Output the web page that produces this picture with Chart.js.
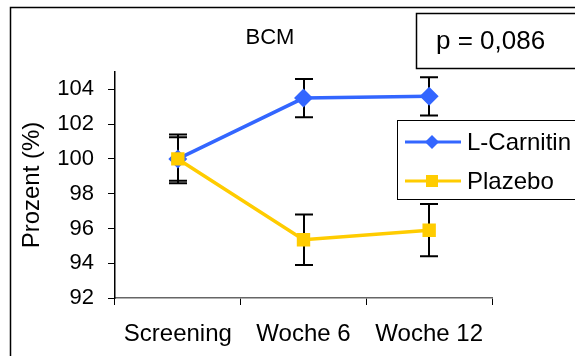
<!DOCTYPE html>
<html>
<head>
<meta charset="utf-8">
<script src="https://cdn.jsdelivr.net/npm/chart.js@4"></script>
<style>
  body { margin: 0; background: #fff; }
  #wrap { width: 575px; height: 356px; }
</style>
</head>
<body>
<div id="wrap"><canvas id="bcm-chart" width="575" height="356"></canvas></div>
<script>
// Data
const categories = ['Screening', 'Woche 6', 'Woche 12'];
const carnitinValues = [100, 103.5, 103.6];
const carnitinErrors = [1.25, 1.1, 1.1];
const plazeboValues = [100, 95.35, 95.9];
const plazeboErrors = [1.4, 1.45, 1.5];
const yTicks = [92, 94, 96, 98, 100, 102, 104];
const chartTitle = 'BCM';
const yAxisTitle = 'Prozent (%)';
const pValueText = 'p = 0,086';

const FONT = '"Liberation Sans", Arial, sans-serif';
const BLUE = '#3366FF';
const YELLOW = '#FFCC00';

// Error bars, frame, title, p-value box and legend
const decorPlugin = {
  id: 'decor',
  beforeDatasetsDraw(chart) {
    const ctx = chart.ctx;
    const x = chart.scales.x;
    const y = chart.scales.y;
    ctx.save();
    ctx.strokeStyle = '#000';
    ctx.lineWidth = 2;
    const sets = [[carnitinValues, carnitinErrors], [plazeboValues, plazeboErrors]];
    sets.forEach(([vals, errs]) => {
      vals.forEach((v, i) => {
        const px = Math.round(x.getPixelForValue(i));
        const top = y.getPixelForValue(v + errs[i]);
        const bot = y.getPixelForValue(v - errs[i]);
        ctx.beginPath();
        ctx.moveTo(px, top); ctx.lineTo(px, bot);
        ctx.moveTo(px - 9, top); ctx.lineTo(px + 9, top);
        ctx.moveTo(px - 9, bot); ctx.lineTo(px + 9, bot);
        ctx.stroke();
      });
    });
    ctx.restore();
  },
  afterDraw(chart) {
    const ctx = chart.ctx;
    ctx.save();
    // outer frame
    ctx.strokeStyle = '#000';
    ctx.lineWidth = 1.5;
    ctx.beginPath();
    ctx.moveTo(10.5, 356); ctx.lineTo(10.5, 7.5); ctx.lineTo(575, 7.5);
    ctx.stroke();

    // title
    ctx.fillStyle = '#000';
    ctx.font = '22px ' + FONT;
    ctx.textAlign = 'center';
    ctx.textBaseline = 'middle';
    ctx.fillText(chartTitle, 270, 38);

    // y axis title
    ctx.save();
    ctx.translate(32, 185);
    ctx.rotate(-Math.PI / 2);
    ctx.font = '24px ' + FONT;
    ctx.fillText(yAxisTitle, 0, 0);
    ctx.restore();

    // p-value box
    ctx.lineWidth = 1.5;
    ctx.strokeRect(416.5, 13.5, 170, 55);
    ctx.font = '26px ' + FONT;
    ctx.textAlign = 'left';
    ctx.fillText(pValueText, 436, 42);

    // legend
    ctx.fillStyle = '#fff';
    ctx.fillRect(397, 120, 190, 79);
    ctx.strokeStyle = '#000';
    ctx.lineWidth = 1;
    ctx.strokeRect(397.5, 120.5, 190, 79);
    const items = chart.data.datasets.slice().sort((a, b) => b.order - a.order);
    items.forEach((ds, i) => {
      const ly = 142 + i * 39;
      ctx.strokeStyle = ds.borderColor;
      ctx.lineWidth = 3;
      ctx.beginPath();
      ctx.moveTo(405, ly); ctx.lineTo(461, ly);
      ctx.stroke();
      ctx.fillStyle = ds.pointBackgroundColor;
      ctx.beginPath();
      if (ds.pointStyle === 'rectRot') {
        ctx.moveTo(432, ly - 7); ctx.lineTo(439, ly); ctx.lineTo(432, ly + 7); ctx.lineTo(425, ly);
        ctx.closePath(); ctx.fill();
      } else {
        ctx.fillRect(426, ly - 6, 12, 12);
      }
      ctx.fillStyle = '#000';
      ctx.font = '24px ' + FONT;
      ctx.textBaseline = 'middle';
      ctx.fillText(ds.label, 467, ly + 1);
    });
    ctx.restore();
  }
};

const ctx = document.getElementById('bcm-chart').getContext('2d');
new Chart(ctx, {
  type: 'line',
  data: {
    labels: categories,
    datasets: [{
      label: 'L-Carnitin',
      data: carnitinValues,
      borderColor: BLUE,
      backgroundColor: BLUE,
      pointBackgroundColor: BLUE,
      pointBorderColor: BLUE,
      pointStyle: 'rectRot',
      pointRadius: 7,
      borderWidth: 3.5,
      tension: 0,
      order: 1
    }, {
      label: 'Plazebo',
      data: plazeboValues,
      borderColor: YELLOW,
      backgroundColor: YELLOW,
      pointBackgroundColor: YELLOW,
      pointBorderColor: YELLOW,
      pointStyle: 'rect',
      pointRadius: 7,
      borderWidth: 3.5,
      tension: 0,
      order: 0
    }]
  },
  options: {
    responsive: false,
    animation: false,
    layout: { padding: { left: 0, top: 72, right: 83, bottom: 0 } },
    plugins: {
      legend: { display: false },
      tooltip: { enabled: false },
      title: { display: false }
    },
    scales: {
      x: {
        offset: true,
        grid: { offset: true, drawOnChartArea: false, tickLength: 7, color: '#000', tickWidth: 1 },
        border: { color: '#666', width: 1.5 },
        ticks: { color: '#000', font: { family: FONT, size: 24 }, padding: 15, maxRotation: 0 },
        afterFit(scale) { scale.height = 58; }
      },
      y: {
        min: 92,
        max: 105,
        grid: { drawOnChartArea: false, tickLength: 7, color: '#000' },
        border: { color: '#000', width: 1.5 },
        ticks: { color: '#000', font: { family: FONT, size: 22 }, padding: 14 },
        afterBuildTicks(scale) { scale.ticks = yTicks.map(v => ({ value: v })); },
        afterFit(scale) { scale.width = 115; }
      }
    }
  },
  plugins: [decorPlugin]
});
</script>
</body>
</html>
